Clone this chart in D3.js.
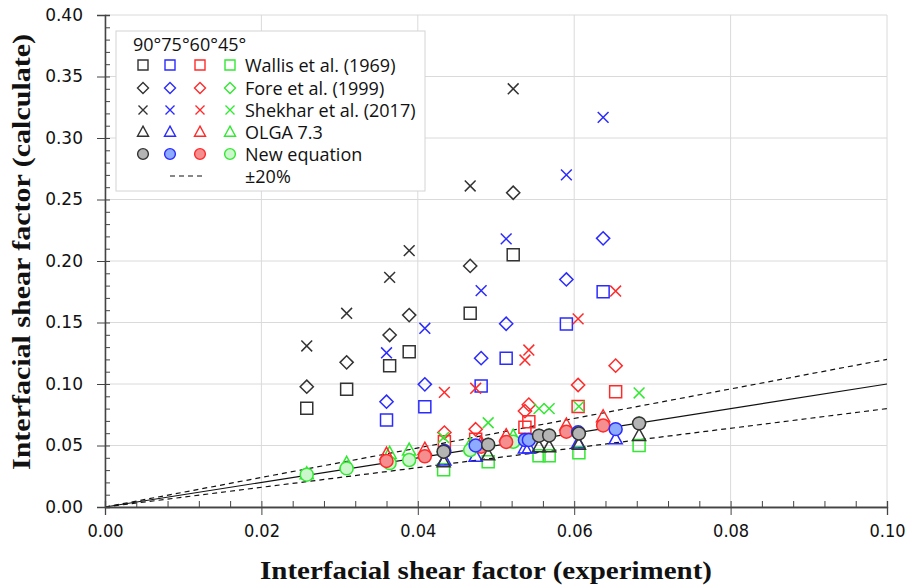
<!DOCTYPE html>
<html>
<head>
<meta charset="utf-8">
<script src="https://cdn.jsdelivr.net/npm/d3@7"></script>
<style>
  body { margin: 0; background: #fff; }
  svg { display: block; }
</style>
</head>
<body>
<div id="chart"></div>
<script>
// Interfacial shear factor: calculated vs experiment
const angles = ["90°", "75°", "60°", "45°"];
const methods = ["Wallis et al. (1969)", "Fore et al. (1999)", "Shekhar et al. (2017)", "OLGA 7.3", "New equation"];
const xTicks = [0, 0.02, 0.04, 0.06, 0.08, 0.10];
const yTicks = [0, 0.05, 0.10, 0.15, 0.20, 0.25, 0.30, 0.35, 0.40];

// experiment values (x) — four groups of test points
const expA = [0.0258, 0.0309, 0.0364, 0.0389, 0.0467, 0.0522];
const expB = [0.0433, 0.0490, 0.0555, 0.0568, 0.0606, 0.0683];
const expC = [0.0360, 0.0409, 0.0481, 0.0513, 0.0590, 0.0637];
const expD = [0.0434, 0.0474, 0.0537, 0.0542, 0.0605, 0.0653];

// 90°
const wallis90 = [0.0802, 0.0957, 0.1148, 0.1263, 0.1575, 0.2050];
const fore90 = [0.0978, 0.1176, 0.1398, 0.1560, 0.1960, 0.2555];
const shekhar90 = [0.1309, 0.1575, 0.1867, 0.2084, 0.2610, 0.3400];
const olga90 = [0.0368, 0.0425, 0.0490, 0.0490, 0.0510, 0.0582];
const newEq90 = [0.0450, 0.0507, 0.0580, 0.0582, 0.0598, 0.0680];
// 75°
const wallis75 = [0.0707, 0.0815, 0.0984, 0.1210, 0.1488, 0.1750];
const fore75 = [0.0856, 0.0997, 0.1210, 0.1490, 0.1850, 0.2184];
const shekhar75 = [0.1254, 0.1453, 0.1759, 0.2180, 0.2700, 0.3168];
const olga75 = [0.0382, 0.0412, 0.0480, 0.0480, 0.0520, 0.0555];
const newEq75 = [0.0455, 0.0500, 0.0545, 0.0545, 0.0607, 0.0633];
// 60°
const wallis60 = [0.0530, 0.0550, 0.0649, 0.0694, 0.0818, 0.0937];
const fore60 = [0.0605, 0.0632, 0.0780, 0.0832, 0.0992, 0.1149];
const shekhar60 = [0.0932, 0.0965, 0.1195, 0.1276, 0.1530, 0.1756];
const olga60 = [0.0430, 0.0470, 0.0520, 0.0580, 0.0667, 0.0734];
const newEq60 = [0.0374, 0.0412, 0.0490, 0.0529, 0.0612, 0.0663];
// 45°
const wallis45 = [0.0303, 0.0368, 0.0416, 0.0416, 0.0441, 0.0500];
const fore45 = [0.0450, 0.0507, 0.0580, 0.0582, 0.0598, 0.0680];
const shekhar45 = [0.0565, 0.0685, 0.0800, 0.0800, 0.0818, 0.0927];
const olga45 = [0.0270, 0.0355, 0.0436, 0.0463, 0.0505, 0.0575];
const newEq45 = [0.0263, 0.0314, 0.0357, 0.0382, 0.0463, 0.0530];

const series = [
  { m: 0, a: 0, xs: expA, ys: wallis90 }, { m: 1, a: 0, xs: expA, ys: fore90 },
  { m: 2, a: 0, xs: expA, ys: shekhar90 }, { m: 3, a: 0, xs: expB, ys: olga90 },
  { m: 4, a: 0, xs: expB, ys: newEq90 },
  { m: 0, a: 1, xs: expC, ys: wallis75 }, { m: 1, a: 1, xs: expC, ys: fore75 },
  { m: 2, a: 1, xs: expC, ys: shekhar75 }, { m: 3, a: 1, xs: expD, ys: olga75 },
  { m: 4, a: 1, xs: expD, ys: newEq75 },
  { m: 0, a: 2, xs: expD, ys: wallis60 }, { m: 1, a: 2, xs: expD, ys: fore60 },
  { m: 2, a: 2, xs: expD, ys: shekhar60 }, { m: 3, a: 2, xs: expC, ys: olga60 },
  { m: 4, a: 2, xs: expC, ys: newEq60 },
  { m: 0, a: 3, xs: expB, ys: wallis45 }, { m: 1, a: 3, xs: expB, ys: fore45 },
  { m: 2, a: 3, xs: expB, ys: shekhar45 }, { m: 3, a: 3, xs: expA, ys: olga45 },
  { m: 4, a: 3, xs: expA, ys: newEq45 }
];

const strokeColors = ["#333333", "#2b2bff", "#ff2b2b", "#33e833"];
const fillColors = ["#b4b4b4", "#8eacff", "#f58e8e", "#ccf7cc"];

const margin = { top: 15, bottom: 81, left: 105, right: 23 };
const width = 910 - margin.left - margin.right;
const height = 588 - margin.top - margin.bottom;

const svg = d3.select("#chart").append("svg")
    .attr("width", 910)
    .attr("height", 588);

const g = svg.append("g")
    .attr("transform", "translate(" + margin.left + "," + margin.top + ")");

const xScale = d3.scaleLinear().domain([0, 0.10]).range([0, width]);
const yScale = d3.scaleLinear().domain([0, 0.40]).range([height, 0]);

// gridlines
g.selectAll(".hgrid").data(yTicks).enter().append("line")
    .attr("x1", 0).attr("x2", width)
    .attr("y1", d => yScale(d)).attr("y2", d => yScale(d))
    .attr("stroke", "#dadada").attr("stroke-width", 1);
g.selectAll(".vgrid").data(xTicks).enter().append("line")
    .attr("x1", d => xScale(d)).attr("x2", d => xScale(d))
    .attr("y1", 0).attr("y2", height)
    .attr("stroke", "#dadada").attr("stroke-width", 1);

// y = x and ±20% lines
const refLines = [{ k: 1, dash: null }, { k: 1.2, dash: "5,4" }, { k: 0.8, dash: "5,4" }];
g.selectAll(".ref").data(refLines).enter().append("line")
    .attr("x1", xScale(0)).attr("y1", yScale(0))
    .attr("x2", xScale(0.10)).attr("y2", d => yScale(0.10 * d.k))
    .attr("stroke", "#111").attr("stroke-width", 1.2)
    .attr("stroke-dasharray", d => d.dash);

// axes
const fmt = d3.format(".2f");
const xAxisG = g.append("g")
    .attr("transform", "translate(0," + height + ")")
    .call(d3.axisBottom(xScale).tickValues(xTicks).tickFormat(fmt).tickSizeOuter(0).tickSize(8).tickPadding(9));
g.append("g")
    .attr("transform", "translate(0," + height + ")")
    .call(d3.axisTop(xScale).tickValues(d3.range(0, 0.1001, 0.004)).tickFormat("").tickSizeOuter(0).tickSize(6));
const yAxisG = g.append("g")
    .call(d3.axisLeft(yScale).tickValues(yTicks).tickFormat(fmt).tickSizeOuter(0).tickSize(8).tickPadding(14));
g.append("g")
    .call(d3.axisRight(yScale).tickValues(d3.range(0, 0.4001, 0.01)).tickFormat("").tickSizeOuter(0).tickSize(5));

g.selectAll(".domain").attr("stroke", "#444").attr("stroke-width", 1.3);
g.selectAll(".tick line").attr("stroke", "#444");
xAxisG.selectAll("text")
    .style("font-family", "'DejaVu Sans Condensed', 'DejaVu Sans', sans-serif")
    .style("font-stretch", "condensed")
    .style("font-size", "18px")
    .attr("fill", "#111");
yAxisG.selectAll("text")
    .style("font-family", "'DejaVu Sans', sans-serif")
    .style("font-size", "17px")
    .attr("fill", "#111");

// marker shapes
function markerPath(type, s) {
  const h = s / 2;
  if (type === 0) return "M" + -h + "," + -h + "H" + h + "V" + h + "H" + -h + "Z";
  if (type === 1) { const d = s * 0.55; return "M0," + -d + "L" + d + ",0L0," + d + "L" + -d + ",0Z"; }
  if (type === 2) { const c = s * 0.45; return "M" + -c + "," + -c + "L" + c + "," + c + "M" + -c + "," + c + "L" + c + "," + -c; }
  if (type === 3) { const w = s * 0.55, t = s * 0.58, b = s * 0.42; return "M0," + -t + "L" + w + "," + b + "L" + -w + "," + b + "Z"; }
  const r = s * 0.54;
  return "M" + r + ",0A" + r + "," + r + " 0 1,1 " + -r + ",0A" + r + "," + r + " 0 1,1 " + r + ",0Z";
}

// draw by method, then angle 45° -> 90° so that black sits on top
const drawOrder = [];
[0, 1, 2, 3, 4].forEach(function(m) {
  [3, 2, 1, 0].forEach(function(a) {
    drawOrder.push(series.find(s => s.m === m && s.a === a));
  });
});

drawOrder.forEach(function(s) {
  const pts = s.xs.map((xv, i) => ({ x: xv, y: s.ys[i] }));
  g.append("g").selectAll("path")
      .data(pts)
      .enter().append("path")
      .attr("transform", d => "translate(" + xScale(d.x) + "," + yScale(d.y) + ")")
      .attr("d", markerPath(s.m, 12))
      .attr("fill", s.m === 4 ? fillColors[s.a] : "none")
      .attr("stroke", strokeColors[s.a])
      .attr("stroke-width", 1.5);
});

// legend
const legend = svg.append("g").attr("transform", "translate(116,31)");
legend.append("rect")
    .attr("width", 309).attr("height", 160)
    .attr("fill", "#fff").attr("stroke", "#d4d4d4");
legend.append("text")
    .attr("x", 17).attr("y", 20)
    .style("font-family", "'Open Sans', sans-serif")
    .style("font-size", "18px")
    .attr("fill", "#111")
    .text(angles.join(""));
const colX = [27, 54, 84, 114];
const rowY = [34, 57, 79, 101, 123, 145];
methods.forEach(function(name, m) {
  angles.forEach(function(a, ai) {
    legend.append("path")
        .attr("transform", "translate(" + colX[ai] + "," + rowY[m] + ")")
        .attr("d", markerPath(m, 10))
        .attr("fill", m === 4 ? fillColors[ai] : "none")
        .attr("stroke", strokeColors[ai])
        .attr("stroke-width", 1.4);
  });
  legend.append("text")
      .attr("x", 129).attr("y", rowY[m] + 6.5)
      .style("font-family", "'Open Sans', sans-serif")
      .style("font-size", "18px")
      .attr("fill", "#111")
      .text(name);
});
legend.append("line")
    .attr("x1", 54).attr("x2", 86)
    .attr("y1", rowY[5]).attr("y2", rowY[5])
    .attr("stroke", "#111").attr("stroke-width", 1.2)
    .attr("stroke-dasharray", "5,4");
legend.append("text")
    .attr("x", 129).attr("y", rowY[5] + 6.5)
    .style("font-family", "'Open Sans', sans-serif")
    .style("font-size", "18px")
    .attr("fill", "#111")
    .text("±20%");

// axis titles
svg.append("text")
    .attr("x", margin.left + width / 2 - 10)
    .attr("y", 579)
    .attr("text-anchor", "middle")
    .attr("textLength", 452)
    .attr("lengthAdjust", "spacingAndGlyphs")
    .style("font-family", "'Liberation Serif', 'DejaVu Serif', serif")
    .style("font-size", "26px")
    .style("font-weight", "bold")
    .attr("fill", "#111")
    .text("Interfacial shear factor (experiment)");

svg.append("text")
    .attr("transform", "rotate(-90)")
    .attr("x", -252)
    .attr("y", 30)
    .attr("text-anchor", "middle")
    .attr("textLength", 436)
    .attr("lengthAdjust", "spacingAndGlyphs")
    .style("font-family", "'Liberation Serif', 'DejaVu Serif', serif")
    .style("font-size", "26px")
    .style("font-weight", "bold")
    .attr("fill", "#111")
    .text("Interfacial shear factor (calculate)");
</script>
</body>
</html>
